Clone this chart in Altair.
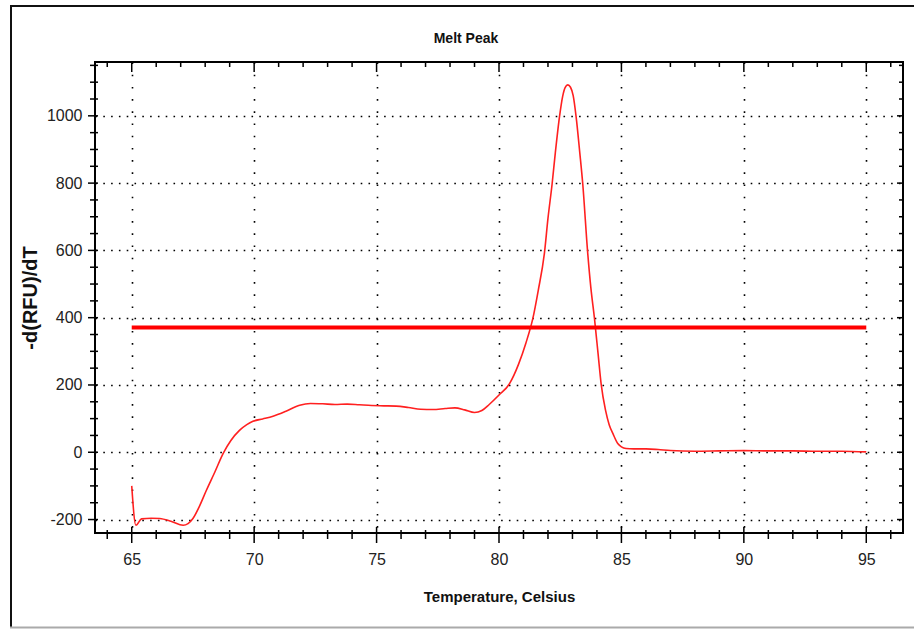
import altair as alt
import pandas as pd

# ---- data ----
temps = [65.0, 65.17, 65.4, 65.8, 66.14, 66.6, 67.1, 67.3, 67.5, 67.75, 68.05, 68.4, 68.73,
         69.05, 69.4, 69.7, 69.95, 70.35, 70.77, 71.3, 71.86, 72.3, 72.8, 73.3, 73.8, 74.3,
         74.8, 75.3, 75.8, 76.3, 76.8, 77.3, 77.8, 78.2, 78.6, 79.0, 79.3, 79.6, 80.0, 80.43,
         80.8, 81.1, 81.38, 81.6, 81.86, 82.0, 82.17, 82.3, 82.47, 82.6, 82.7, 82.81, 82.92,
         83.03, 83.15, 83.3, 83.42, 83.62, 83.75, 83.9, 84.05, 84.17, 84.35, 84.5, 84.65,
         84.85, 85.0, 85.19, 85.5, 86.0, 86.5, 87.0, 88.0, 89.0, 90.0, 91.0, 92.0, 93.0,
         94.0, 95.0]
rfu = [-100, -217, -198, -196, -197, -205, -217, -212, -197, -163, -113, -58, -4,
       35, 65, 82, 92, 99, 107, 122, 140, 145, 144, 142, 143, 141,
       139, 138, 137, 133, 128, 127, 130, 132, 126, 118, 124, 142, 170, 204,
       262, 325, 397, 480, 595, 695, 798, 890, 997, 1058, 1084, 1092, 1085,
       1060, 997, 890, 798, 595, 490, 397, 290, 204, 125, 82, 56,
       26, 16, 11, 10, 10, 8, 5, 3, 4, 5, 4, 4, 3,
       3, 1]
threshold_value = [371]
x_ticks = list(range(64, 97))          # 1-degree tick marks
y_ticks = list(range(-200, 1151, 50))  # 50-unit tick marks
x_domain = [63.5, 96.5]
y_domain = [-240, 1160]
title_text = ["Melt Peak"]

W, H = 808, 471
FONT = "Liberation Sans, Arial, sans-serif"
RED = "#ff2020"

curve = pd.DataFrame({"T": temps, "v": rfu})
thr = pd.DataFrame({"T": [temps[0]], "T2": [temps[-1]], "v": threshold_value})
xt = pd.DataFrame({"T": x_ticks, "major": [t % 5 == 0 for t in x_ticks]})
yt = pd.DataFrame({"v": y_ticks, "major": [t % 200 == 0 for t in y_ticks]})

xs = alt.Scale(domain=x_domain, nice=False, zero=False)
ys = alt.Scale(domain=y_domain, nice=False, zero=False)

x_axis = alt.Axis(
    values=x_ticks,
    labelExpr="datum.value % 5 === 0 ? '' + datum.value : ''",
    ticks=False, domain=False, labelOverlap=False, labelFlush=False,
    labelFont=FONT, labelFontSize=16, labelColor="#222", labelPadding=18,
    grid=True, gridColor="black", gridWidth=1.6, gridDash=[1.6, 10.6],
    gridOpacity={"condition": {"test": "datum.value % 5 === 0", "value": 1}, "value": 0},
    title="Temperature, Celsius", titleFont=FONT, titleFontSize=15,
    titleFontWeight="bold", titleColor="#111", titlePadding=22,
)
y_axis = alt.Axis(
    values=y_ticks,
    labelExpr="datum.value % 200 === 0 ? '' + datum.value : ''",
    ticks=False, domain=False, labelOverlap=False, labelFlush=False,
    labelFont=FONT, labelFontSize=16, labelColor="#222", labelPadding=13,
    grid=True, gridColor="black", gridWidth=1.6, gridDash=[1.6, 6.2],
    gridOpacity={"condition": {"test": "datum.value % 200 === 0", "value": 1}, "value": 0},
    title="-d(RFU)/dT", titleFont=FONT, titleFontSize=20,
    titleFontWeight="bold", titleColor="#111", titlePadding=6,
)

X = lambda f="T:Q": alt.X(f, scale=xs, axis=x_axis)
Y = lambda f="v:Q": alt.Y(f, scale=ys, axis=y_axis)

line = alt.Chart(curve).mark_line(color=RED, strokeWidth=1.6, interpolate="monotone").encode(
    x=X(), y=Y(),
)

threshold = alt.Chart(thr).mark_rule(color="#ff0000", strokeWidth=4).encode(
    x=X(), x2="T2:Q", y=Y(),
)

def xtick(major, y0, y1):
    return alt.Chart(xt).transform_filter(
        "datum.major" if major else "!datum.major"
    ).mark_rule(color="black", strokeWidth=1.5).encode(
        x=X(), y=alt.value(y0), y2=alt.value(y1),
    )

def ytick(major, x0, x1):
    return alt.Chart(yt).transform_filter(
        "datum.major" if major else "!datum.major"
    ).mark_rule(color="black", strokeWidth=1.5).encode(
        y=Y(), x=alt.value(x0), x2=alt.value(x1),
    )

ticks = [
    xtick(True, H - 6, H + 10), xtick(False, H - 3, H + 6),   # bottom
    xtick(True, 0, 10), xtick(False, 0, 5),                   # top (inward)
    ytick(True, -7, 3), ytick(False, -5, 3),                  # left
    ytick(True, W - 6, W), ytick(False, W - 4, W),            # right (inward)
]

deco = pd.DataFrame({"k": [0]})
frame_left = alt.Chart(deco).mark_rule(color="#111", strokeWidth=2).encode(
    x=alt.value(-84), y=alt.value(-57), y2=alt.value(566))
frame_top = alt.Chart(deco).mark_rule(color="#111", strokeWidth=2).encode(
    x=alt.value(-85), x2=alt.value(W + 12), y=alt.value(-56))
frame_bottom = alt.Chart(deco).mark_rule(color="#aaa", strokeWidth=2).encode(
    x=alt.value(-85), x2=alt.value(W + 12), y=alt.value(565.5))

title = alt.Chart(pd.DataFrame({"txt": title_text})).mark_text(
    font=FONT, fontSize=14, fontWeight="bold", color="#111", baseline="middle", align="center"
).encode(text="txt:N", x=alt.value(W / 2 - 33), y=alt.value(-23))

chart = alt.layer(
    line, threshold, *ticks, frame_left, frame_top, frame_bottom, title
).properties(
    width=W, height=H,
    autosize=alt.AutoSizeParams(type="none"),
    padding={"left": 95, "top": 62, "right": 11, "bottom": 96},
    background="white",
).configure_view(stroke="black", strokeWidth=2)

chart.save("out.html", embed_options={"renderer": "svg", "actions": False})
